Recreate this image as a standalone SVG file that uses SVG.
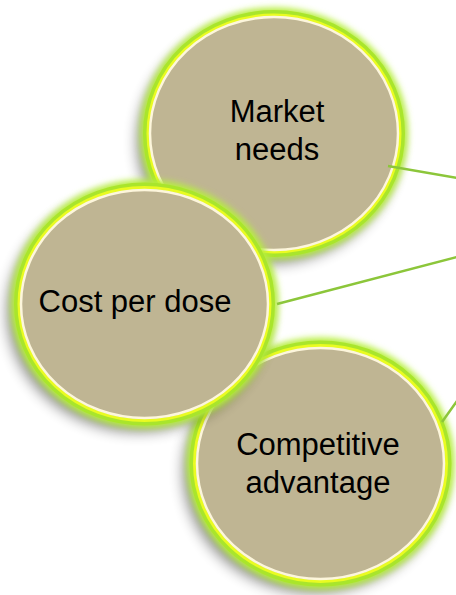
<svg xmlns="http://www.w3.org/2000/svg" width="456" height="595" viewBox="0 0 456 595">
<defs>
<filter id="shadow" x="-30%" y="-30%" width="160%" height="160%"><feGaussianBlur stdDeviation="7"/></filter>
<filter id="glow" x="-20%" y="-20%" width="140%" height="140%"><feGaussianBlur stdDeviation="3"/></filter>
<style>
.sh{fill:#000;opacity:.45;filter:url(#shadow)}
.gl{fill:none;stroke:#b8f040;stroke-width:10;filter:url(#glow)}
.rg{fill:none;stroke:#a9e52c;stroke-width:5}
.yl{fill:none;stroke:#e9fb22;stroke-width:3}
.bg{fill:#bfb593;stroke:#fdf6dc;stroke-width:2.5}
.t{font-family:"Liberation Sans",Arial,sans-serif;font-size:31px;fill:#000;text-anchor:middle}
.ln{stroke:#8cc63a;stroke-width:2.5;fill:none}
</style>
</defs>
<rect width="456" height="595" fill="#fff"/>
<g id="node-market">
<ellipse class="sh" cx="268" cy="142" rx="131" ry="122"/>
<ellipse class="gl" cx="274" cy="133.5" rx="129" ry="121"/>
<ellipse class="rg" cx="274" cy="133.5" rx="128.5" ry="121"/>
<ellipse class="yl" cx="274" cy="133.5" rx="126" ry="118.5"/>
<ellipse class="bg" cx="274" cy="133.5" rx="124" ry="116.5"/>
<text class="t" x="277" y="122">Market</text>
<text class="t" x="277" y="160">needs</text>
</g>
<g id="node-competitive">
<ellipse class="sh" cx="314" cy="472" rx="131" ry="121"/>
<ellipse class="gl" cx="320.5" cy="463.5" rx="129" ry="121"/>
<ellipse class="rg" cx="320.5" cy="463.5" rx="128.5" ry="120.5"/>
<ellipse class="yl" cx="320.5" cy="463.5" rx="126" ry="118"/>
<ellipse class="bg" cx="320.5" cy="463.5" rx="123.5" ry="115.5"/>
<text class="t" x="318" y="455">Competitive</text>
<text class="t" x="318" y="493">advantage</text>
</g>
<g id="node-cost">
<ellipse class="sh" cx="138" cy="312" rx="131" ry="120"/>
<ellipse class="gl" cx="144.5" cy="304" rx="129" ry="119.5"/>
<ellipse class="rg" cx="144.5" cy="304" rx="128" ry="119"/>
<ellipse class="yl" cx="144.5" cy="304" rx="125.5" ry="116.5"/>
<ellipse class="bg" cx="144.5" cy="304" rx="123.5" ry="114"/>
<text class="t" x="135" y="312">Cost per dose</text>
</g>
<g id="connectors">
<line class="ln" x1="388" y1="166" x2="457" y2="178"/>
<line class="ln" x1="277" y1="304" x2="457" y2="257"/>
<line class="ln" x1="442" y1="422" x2="457" y2="401"/>
</g>
</svg>
